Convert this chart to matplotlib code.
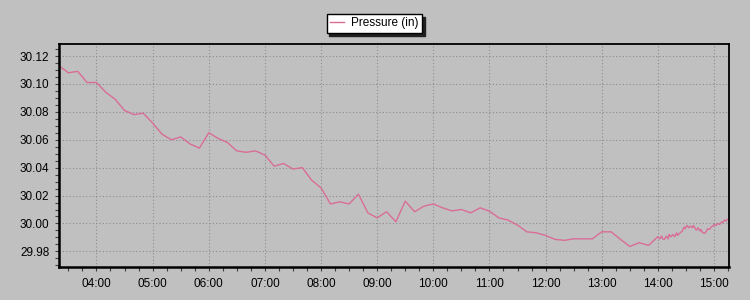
import matplotlib
matplotlib.use('Agg')
import matplotlib.pyplot as plt
import matplotlib.dates as mdates
import matplotlib.ticker as ticker
from datetime import datetime, timedelta

plt.rcParams['font.family'] = ['Liberation Sans', 'DejaVu Sans']

# 10-minute readings, 03:20 .. 13:50
start = datetime(2024, 1, 1, 3, 20)
pressure_10min = [30.113, 30.108, 30.109, 30.101, 30.101, 30.094, 30.089, 30.081,
                  30.078, 30.079, 30.072, 30.064, 30.060, 30.062, 30.057, 30.054,
                  30.065, 30.061, 30.058, 30.052, 30.051, 30.052, 30.049, 30.041,
                  30.043, 30.039, 30.040, 30.031, 30.0255, 30.014, 30.0155, 30.014,
                  30.021, 30.0076, 30.004, 30.0084, 30.0012, 30.016, 30.0084, 30.0124,
                  30.014, 30.0112, 30.009, 30.010, 30.0076, 30.0112, 30.0088, 30.004,
                  30.0024, 29.9988, 29.994, 29.9933, 29.9914, 29.9886, 29.9879, 29.989,
                  29.989, 29.989, 29.994, 29.994, 29.9886, 29.9835, 29.9862, 29.9843]

# denser readings after 14:00 (minutes after 14:00)
dense_minutes = [0, 2, 4, 5, 7, 9, 11, 12, 14, 16, 18, 20, 21, 23, 26, 28, 29, 31, 33, 35,
                 37, 38, 41, 43, 45, 46, 48, 50, 52, 53, 55, 57, 59, 60, 62, 64, 66, 68,
                 69, 71, 73, 74]
dense_pressure = [29.9905, 29.9890, 29.9910, 29.9890, 29.9886, 29.9910, 29.9890, 29.9921,
                  29.9905, 29.9921, 29.9905, 29.9933, 29.9914, 29.9929, 29.9945, 29.9974,
                  29.9962, 29.9986, 29.9969, 29.9981, 29.9969, 29.9986, 29.9952, 29.9969,
                  29.9945, 29.9957, 29.9933, 29.9929, 29.9945, 29.9962, 29.9957, 29.9976,
                  29.9981, 29.9993, 29.9986, 30.0000, 29.9993, 30.0010, 30.0005, 30.0024,
                  30.0017, 30.0029]

times = [start + timedelta(minutes=10 * i) for i in range(len(pressure_10min))]
t14 = datetime(2024, 1, 1, 14, 0)
times += [t14 + timedelta(minutes=m) for m in dense_minutes]
values = pressure_10min + dense_pressure

bg = '#C0C0C0'
fig = plt.figure(figsize=(7.5, 3), dpi=100, facecolor=bg)
ax = fig.add_axes([0.0787, 0.11, 0.8933, 0.7433], facecolor=bg)

ln, = ax.plot(times, values, color='#D96D97', linewidth=1.0, label='Pressure (in)')

ax.set_xlim(datetime(2024, 1, 1, 3, 20), datetime(2024, 1, 1, 15, 16))
ax.set_ylim(29.9688, 30.1286)

ax.xaxis.set_major_locator(mdates.HourLocator())
ax.xaxis.set_major_formatter(mdates.DateFormatter('%H:%M'))
ax.xaxis.set_minor_locator(mdates.MinuteLocator(byminute=[15, 30, 45]))
ax.yaxis.set_major_locator(ticker.MultipleLocator(0.02))
ax.yaxis.set_major_formatter(ticker.FormatStrFormatter('%.2f'))
ax.yaxis.set_minor_locator(ticker.MultipleLocator(0.005))

ax.grid(True, which='major', color='#8C8C8C', linestyle=(0, (1, 2)), linewidth=0.8)
ax.tick_params(which='both', direction='out', color='#404040', labelsize=8.5, width=0.8)
ax.tick_params(axis='x', which='major', length=3, pad=5)
ax.tick_params(axis='y', which='major', length=3, pad=4)
ax.tick_params(which='minor', length=3)

for side in ['left', 'bottom']:
    ax.spines[side].set_linewidth(1.8)
for side in ['top', 'right']:
    ax.spines[side].set_linewidth(1.3)

leg = fig.legend(handles=[ln], loc='center', bbox_to_anchor=(0.4993, 0.9217),
                 fontsize=8.5, frameon=True, fancybox=False, edgecolor='black',
                 facecolor='white', framealpha=1, handlelength=1.2, handletextpad=0.6,
                 borderpad=0.3, shadow={'color': '#202020', 'alpha': 1})
leg.get_frame().set_linewidth(1.0)

fig.savefig('out.png', dpi=100, facecolor=bg)
